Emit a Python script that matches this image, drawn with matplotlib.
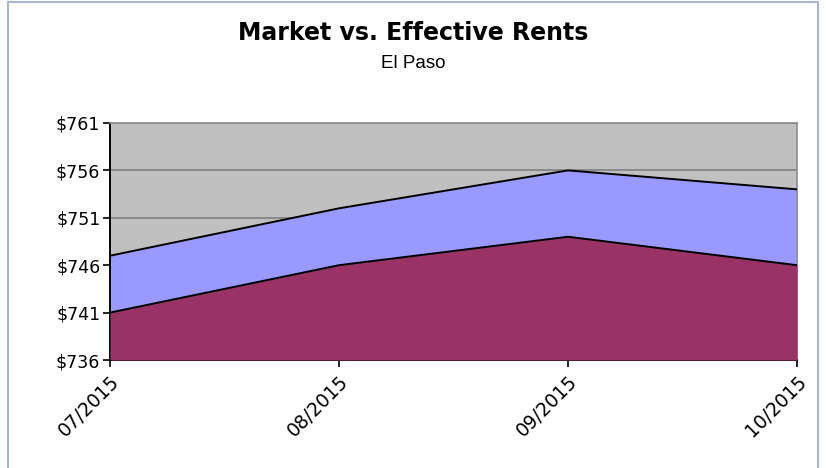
import matplotlib
matplotlib.use("Agg")
import matplotlib.pyplot as plt
from matplotlib.patches import Rectangle

months = ["07/2015", "08/2015", "09/2015", "10/2015"]
market = [747, 752, 756, 754]
effective = [741, 746, 749, 746]
yticks = [736, 741, 746, 751, 756, 761]

fig = plt.figure(figsize=(8.26, 4.68), dpi=100)
fig.patch.set_facecolor("white")

# outer frame of the chart
fig.patches.append(Rectangle((8 / 826, -0.01), 810 / 826, 1 - 1.5 / 468 + 0.01,
                             transform=fig.transFigure, fill=False,
                             edgecolor="#a9b8cc", linewidth=1.5))

ax = fig.add_axes([110 / 826, 1 - 360 / 468, 687 / 826, 237 / 468])
ax.set_facecolor("#c0c0c0")
x = list(range(len(months)))

ax.fill_between(x, yticks[0], market, color="#9999ff", zorder=2, linewidth=0)
ax.fill_between(x, yticks[0], effective, color="#993366", zorder=3, linewidth=0)
ax.plot(x, market, color="black", linewidth=1.4, zorder=4)
ax.plot(x, effective, color="black", linewidth=1.4, zorder=4)

ax.set_xlim(0, len(months) - 1)
ax.set_ylim(yticks[0], yticks[-1])
ax.set_yticks(yticks)
ax.set_yticklabels(["${}".format(v) for v in yticks], fontsize=12.5)
ax.set_xticks(x)
ax.set_xticklabels(months, rotation=45, ha="right", va="top",
                   rotation_mode="anchor", fontsize=13.5)
ax.tick_params(axis="both", direction="out", length=5, width=1.2, color="black", pad=2)
ax.tick_params(axis="x", pad=4)

ax.grid(axis="y", color="#808080", linewidth=1.2, zorder=1)
ax.set_axisbelow(True)

for s in ["left", "bottom"]:
    ax.spines[s].set_color("black")
    ax.spines[s].set_linewidth(1.4)
for s in ["top", "right"]:
    ax.spines[s].set_color("#8c8c8c")
    ax.spines[s].set_linewidth(1.2)

fig.text(0.5, 1 - 33 / 468, "Market vs. Effective Rents", ha="center", va="center",
         fontsize=17, fontweight="bold")
fig.text(0.5, 1 - 63 / 468, "El Paso", ha="center", va="center", fontsize=13.5,
         family="Liberation Sans")

fig.savefig("out.png", dpi=100)
